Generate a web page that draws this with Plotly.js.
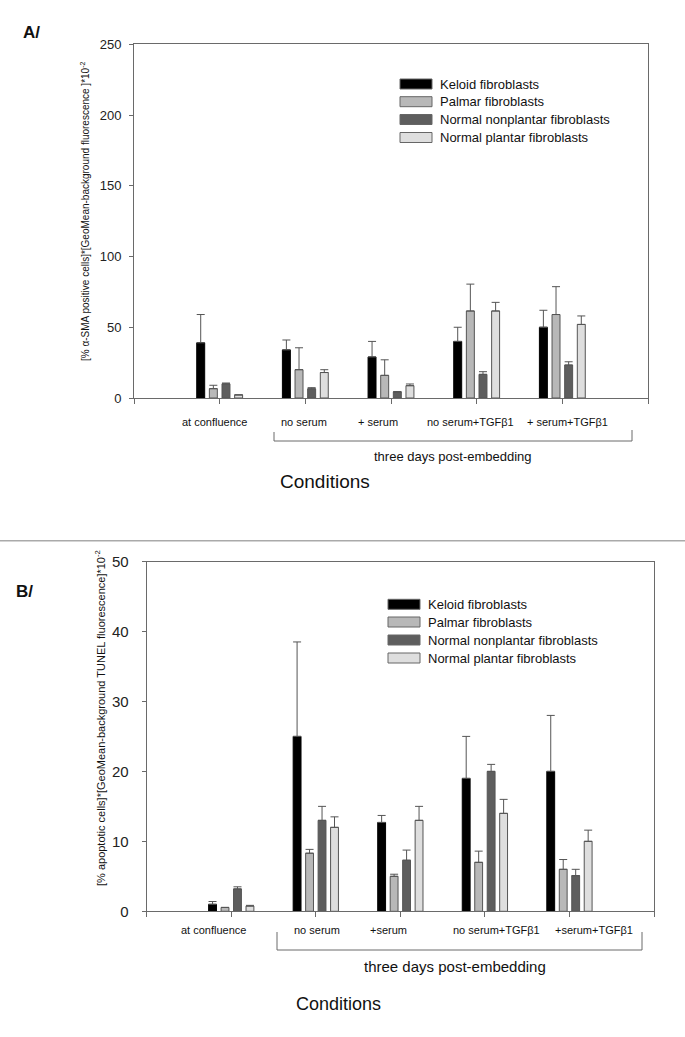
<!DOCTYPE html>
<html><head><meta charset="utf-8">
<script src="https://cdn.plot.ly/plotly-3.0.1.min.js"></script>
<style>html,body{margin:0;padding:0;background:#fff}#chart{width:685px;height:1037px}</style>
</head><body><div id="chart"></div>
<script>
// ---------- data ----------
const seriesNames = ["Keloid fibroblasts", "Palmar fibroblasts", "Normal nonplantar fibroblasts", "Normal plantar fibroblasts"];
const categoriesA = ["at confluence", "no serum", "+ serum", "no serum+TGFβ1", "+ serum+TGFβ1"];
const categoriesB = ["at confluence", "no serum", "+serum", "no serum+TGFβ1", "+serum+TGFβ1"];

// Panel A: alpha-SMA
const keloidA = [39, 34, 29, 40, 50];
const keloidAErr = [20, 7, 11, 10, 12];
const palmarA = [6.6, 20, 16, 61.5, 59];
const palmarAErr = [2.4, 15.5, 11, 19, 19.7];
const nonplantarA = [10, 6.5, 4.3, 16.7, 23.3];
const nonplantarAErr = [0.6, 0.8, 0.3, 1.9, 2.3];
const plantarA = [2.2, 18, 8.7, 61.5, 52];
const plantarAErr = [0, 2, 1.2, 6.1, 6];

// Panel B: apoptosis
const keloidB = [1.0, 25, 12.7, 19, 20];
const keloidBErr = [0.4, 13.5, 1.0, 6, 8];
const palmarB = [0.55, 8.3, 5.0, 7.0, 6.0];
const palmarBErr = [0, 0.55, 0.3, 1.6, 1.4];
const nonplantarB = [3.2, 13, 7.3, 20, 5.1];
const nonplantarBErr = [0.3, 2, 1.45, 1, 0.9];
const plantarB = [0.75, 12, 13, 14, 10];
const plantarBErr = [0.1, 1.5, 2, 2, 1.6];

const yTicksA = [0, 50, 100, 150, 200, 250];
const yTicksB = [0, 10, 20, 30, 40, 50];

// ---------- styling ----------
const W = 685, H = 1037;
const X = p => p / W, Y = p => 1 - p / H;
const FONT = '"Liberation Sans", Arial, sans-serif';
const colors = ["#000000", "#b8b8b8", "#5e5e5e", "#dedede"];
const lineCol = "#6a6a6a";
const idx = categoriesA.map((_, i) => i);

function mkTraces(vals, errs, xa, ya) {
  return vals.map((v, k) => ({
    type: "bar", x: idx, y: v, name: seriesNames[k], xaxis: xa, yaxis: ya,
    showlegend: false,
    marker: { color: colors[k], line: { color: k === 0 ? "#000" : "#555", width: 1 } },
    error_y: { type: "data", symmetric: false, array: errs[k], arrayminus: v.map(() => 0),
      color: "#555", thickness: 1, width: 4 },
    hoverinfo: "skip"
  }));
}

const traces = [
  ...mkTraces([keloidA, palmarA, nonplantarA, plantarA], [keloidAErr, palmarAErr, nonplantarAErr, plantarAErr], "x", "y"),
  ...mkTraces([keloidB, palmarB, nonplantarB, plantarB], [keloidBErr, palmarBErr, nonplantarBErr, plantarBErr], "x2", "y2")
];

const xTickVals = [-1, ...idx, categoriesA.length];
function xAxis(domain, anchor) {
  return { domain, anchor, range: [-1, categoriesA.length], tickvals: xTickVals, showticklabels: false,
    ticks: "outside", ticklen: 5, tickcolor: lineCol, showline: true, linecolor: lineCol, linewidth: 1,
    mirror: true, showgrid: false, zeroline: false, fixedrange: true };
}
function yAxis(domain, anchor, range, vals, fs, standoff) {
  return { domain, anchor, range, tickvals: vals, ticks: "outside", ticklen: 4, tickcolor: lineCol,
    tickfont: { family: FONT, size: fs, color: "#222" }, ticklabelstandoff: standoff,
    showline: true, linecolor: lineCol, linewidth: 1, mirror: true, showgrid: false, zeroline: false, fixedrange: true };
}

const annotations = [];
const shapes = [];
function txt(text, x, y, size, opts) {
  annotations.push(Object.assign({ text, x, y, xref: "paper", yref: "paper", showarrow: false,
    xanchor: "center", yanchor: "middle", font: { family: FONT, size, color: "#111" } }, opts || {}));
}

// panel letters
txt("<b>A/</b>", X(31), Y(33), 17);
txt("<b>B/</b>", X(24), Y(591), 17);

// y titles
txt("[% α-SMA positive cells]*[GeoMean-background fluorescence ]*10<sup>-2</sup>", X(85), Y(212), 10, { textangle: -90 });
txt("[% apoptotic cells]*[GeoMean-background TUNEL fluorescence]*10<sup>-2</sup>", X(100), Y(718), 11, { textangle: -90 });

// category labels
const shiftA = [-5, -1, -13, -6, 5];
const shiftB = [-18, 1, -12, 12, 25];
categoriesA.forEach((c, i) => annotations.push({ text: c, x: i, xref: "x", y: Y(422), yref: "paper",
  xshift: shiftA[i], showarrow: false, xanchor: "center", yanchor: "middle", font: { family: FONT, size: 11, color: "#111" } }));
categoriesB.forEach((c, i) => annotations.push({ text: c, x: i, xref: "x2", y: Y(930), yref: "paper",
  xshift: shiftB[i], showarrow: false, xanchor: "center", yanchor: "middle", font: { family: FONT, size: 11, color: "#111" } }));

// brackets
function bracket(x0, x1, yTopL, yTopR, yBot) {
  shapes.push({ type: "path", xref: "paper", yref: "paper",
    path: `M${X(x0)},${Y(yTopL)} L${X(x0)},${Y(yBot)} L${X(x1)},${Y(yBot)} L${X(x1)},${Y(yTopR)}`,
    line: { color: lineCol, width: 1 } });
}
bracket(274, 632, 432, 430, 441);
bracket(277, 642, 932, 932, 950);
txt("three days post-embedding", X(453), Y(457), 13);
txt("three days post-embedding", X(455), Y(966), 15);
txt("Conditions", X(325), Y(481), 19);
txt("Conditions", X(338), Y(1004), 18);

// separator
shapes.push({ type: "line", xref: "paper", yref: "paper", x0: 0, x1: 1, y0: Y(540.7), y1: Y(540.7),
  line: { color: "#aaaaaa", width: 1.5 } });

// custom legends
function legend(sx, tx, rows, fs) {
  seriesNames.forEach((n, k) => {
    shapes.push({ type: "rect", xref: "paper", yref: "paper", x0: X(sx), x1: X(sx + 32),
      y0: Y(rows[k] + 5), y1: Y(rows[k] - 5), fillcolor: colors[k], line: { color: "#666", width: 1 } });
    txt(n, X(tx), Y(rows[k]), fs, { xanchor: "left" });
  });
}
legend(400, 438, [84, 101.7, 119.5, 137.5], 13);
legend(388, 426, [604.3, 622, 640, 658], 13);

const layout = {
  width: W, height: H, margin: { l: 0, r: 0, t: 0, b: 0 },
  paper_bgcolor: "#fff", plot_bgcolor: "#fff",
  barmode: "group", bargap: 0.41, bargroupgap: 0.37,
  showlegend: false,
  xaxis: xAxis([X(134), X(648)], "y"),
  yaxis: yAxis([Y(398), Y(44.3)], "x", [0, 250], yTicksA, 13, 5),
  xaxis2: xAxis([X(146.7), X(654)], "y2"),
  yaxis2: yAxis([Y(911.3), Y(561.5)], "x2", [0, 50], yTicksB, 15, 10),
  annotations, shapes,
  font: { family: FONT }
};

Plotly.newPlot("chart", traces, layout, { staticPlot: true, displayModeBar: false });
</script></body></html>
